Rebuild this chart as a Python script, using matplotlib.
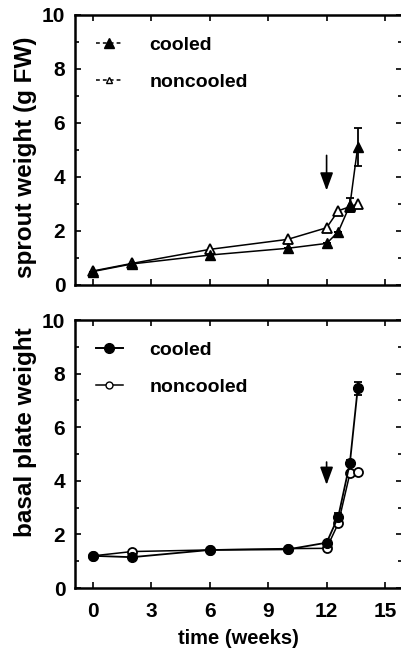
import matplotlib
matplotlib.use("Agg")
import matplotlib.pyplot as plt
from matplotlib.lines import Line2D

plt.rcParams['font.family'] = ['Liberation Sans', 'DejaVu Sans']
plt.rcParams['font.weight'] = 'bold'

# ---- data ----
weeks = [0, 2, 6, 10, 12, 12.6, 13.2, 13.6]
sprout_cooled = [0.5, 0.78, 1.11, 1.36, 1.54, 1.97, 2.96, 5.12]
sprout_cooled_err = [0, 0, 0, 0, 0, 0, 0.25, 0.7]
sprout_noncooled = [0.52, 0.8, 1.32, 1.69, 2.12, 2.75, 2.9, 3.0]
basal_cooled = [1.2, 1.15, 1.42, 1.44, 1.69, 2.66, 4.68, 7.45]
basal_cooled_err = [0, 0, 0, 0, 0, 0.15, 0.1, 0.25]
basal_noncooled = [1.2, 1.36, 1.42, 1.47, 1.48, 2.41, 4.28, 4.33]
xticks = [0, 3, 6, 9, 12, 15]
yticks = [0, 2, 4, 6, 8, 10]
arrow_week = 12
sprout_arrow = (4.8, 3.5)
basal_arrow = (4.7, 3.85)

fig = plt.figure(figsize=(4.01, 6.51), dpi=100)
W, H = 401, 651
ax1 = fig.add_axes([75 / W, (H - 285) / H, 326.5 / W, 270 / H])
ax2 = fig.add_axes([75 / W, (H - 588) / H, 326.5 / W, 268 / H])


def style(ax, ylabel, show_xlabels, label_y):
    ax.set_xlim(-0.93, 15.85)
    ax.set_ylim(0, 10)
    ax.set_xticks(xticks)
    ax.set_yticks(yticks)
    ax.set_yticks([1, 3, 5, 7, 9], minor=True)
    ax.tick_params(which='both', direction='in', top=True, right=True,
                   labelsize=15, width=1.2)
    ax.tick_params(axis='y', pad=7)
    ax.tick_params(axis='x', pad=10)
    ax.tick_params(which='major', length=4)
    ax.tick_params(which='minor', length=3)
    for s in ax.spines.values():
        s.set_linewidth(1.8)
    for lab in ax.get_yticklabels() + ax.get_xticklabels():
        lab.set_fontweight('bold')
    ax.set_ylabel(ylabel, fontsize=17.5, fontweight='bold')
    ax.yaxis.label.set_va('center')
    ax.yaxis.set_label_coords(-0.152, label_y)
    if not show_xlabels:
        ax.tick_params(labelbottom=False)
    else:
        ax.set_xlabel('time (weeks)', fontsize=14.5, fontweight='bold', labelpad=6)


arrow_props = dict(arrowstyle='-|>,head_length=0.6,head_width=0.22', color='black',
                   lw=1.2, mutation_scale=18, shrinkA=0, shrinkB=0)

# top panel
ax1.plot(weeks, sprout_noncooled, '-', color='black', lw=1.1, marker='^',
         ms=7, mfc='white', mec='black', mew=1.3, zorder=3)
ax1.errorbar(weeks, sprout_cooled, yerr=sprout_cooled_err, fmt='-^',
             color='black', lw=1.1, ms=7.5, capsize=3, elinewidth=1.3,
             capthick=1.3, zorder=4)
ax1.annotate('', xy=(arrow_week, sprout_arrow[1]), xytext=(arrow_week, sprout_arrow[0]),
             arrowprops=arrow_props)
style(ax1, 'sprout weight (g FW)', False, 0.474)
h1 = [Line2D([], [], color='black', lw=1.1, marker='^', ms=7, linestyle=(0, (2.5, 2))),
      Line2D([], [], color='black', lw=1.1, marker='^', ms=5, mfc='white',
             linestyle=(0, (2.5, 2)))]
ax1.legend(h1, ['cooled', 'noncooled'], loc='upper left', frameon=False,
           handlelength=1.4, handletextpad=1.35, labelspacing=1.0, fontsize=14,
           bbox_to_anchor=(0.04, 0.95), borderaxespad=0)

# bottom panel
ax2.plot(weeks, basal_noncooled, '-', color='black', lw=1.1, marker='o',
         ms=6.5, mfc='white', mec='black', mew=1.3, zorder=3)
ax2.errorbar(weeks, basal_cooled, yerr=basal_cooled_err, fmt='-o',
             color='black', lw=1.3, ms=7, capsize=3, elinewidth=1.3,
             capthick=1.3, zorder=4)
ax2.annotate('', xy=(arrow_week, basal_arrow[1]), xytext=(arrow_week, basal_arrow[0]),
             arrowprops=arrow_props)
style(ax2, 'basal plate weight', True, 0.58)
h2 = [Line2D([], [], color='black', lw=1.4, marker='o', ms=7),
      Line2D([], [], color='black', lw=1.1, marker='o', ms=5, mfc='white')]
ax2.legend(h2, ['cooled', 'noncooled'], loc='upper left', frameon=False,
           handlelength=1.4, handletextpad=1.35, labelspacing=1.0, fontsize=14,
           bbox_to_anchor=(0.04, 0.95), borderaxespad=0)

fig.savefig('out.png', dpi=100)
